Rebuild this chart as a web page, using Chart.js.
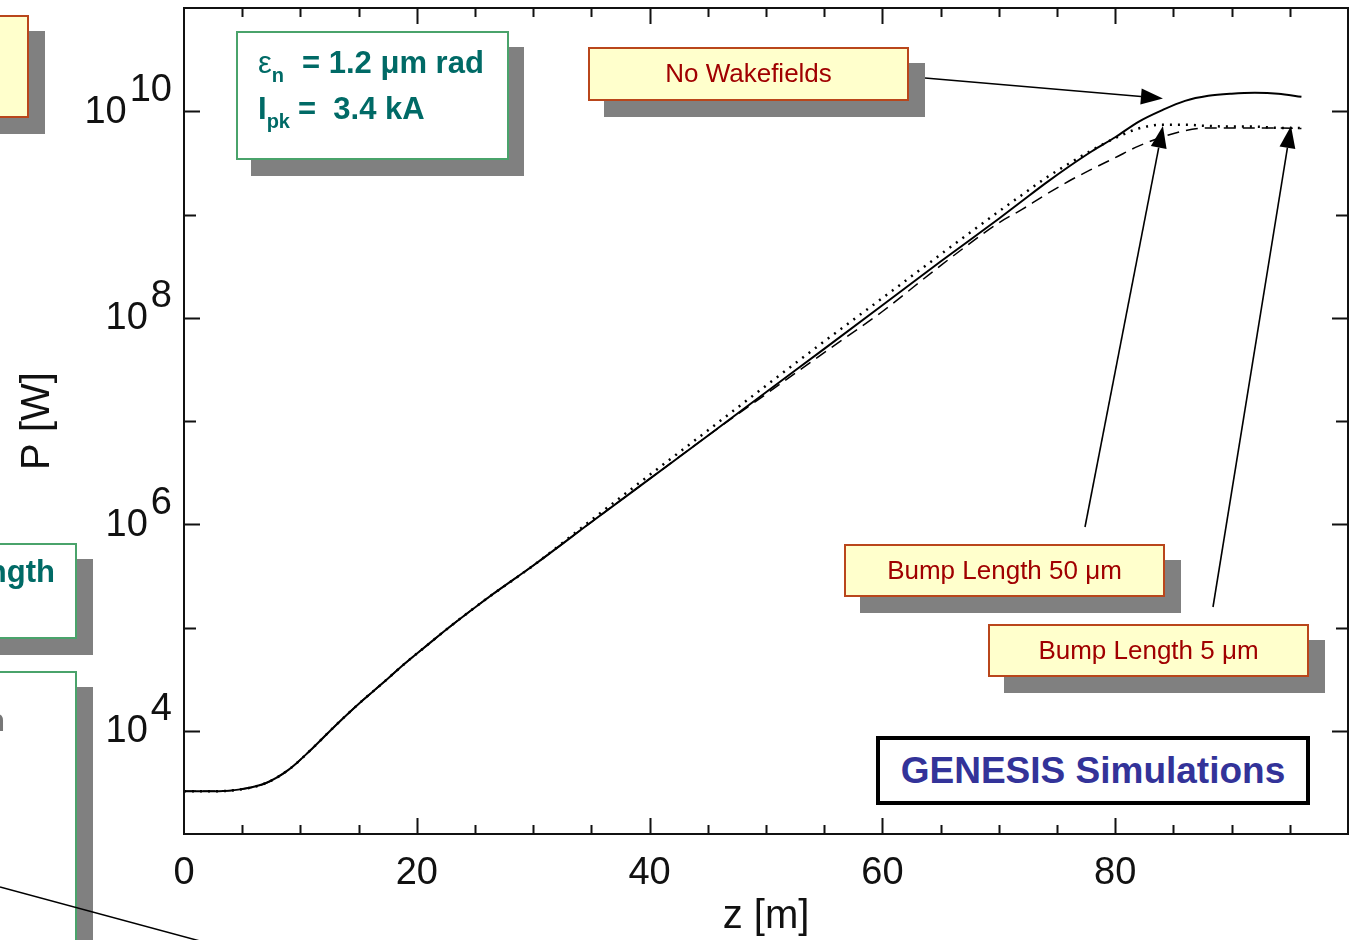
<!DOCTYPE html>
<html lang="en">
<head>
<meta charset="UTF-8">
<title>GENESIS - P vs z</title>
<script src="https://cdn.jsdelivr.net/npm/chart.js"></script>
<style>
  body { margin: 0; background: #fff; overflow: hidden; font-family: "Liberation Sans", Arial, sans-serif; }
  #wrap { position: relative; width: 1351px; height: 940px; overflow: hidden; }
  #chart { position: absolute; left: 0; top: 0; }
  .box { position: absolute; box-sizing: border-box; box-shadow: 16px 16px 0 #808080; }
  .note { background: #ffffcc; border: 2px solid #b9461b; color: #a00000; font-size: 26px; text-align: center; line-height: 49px; }
  .green { background: #fff; border: 2px solid #4aa36b; color: #006a66; font-weight: bold; font-size: 31px; }
  .green .ln { position: absolute; white-space: nowrap; line-height: 30px; }
  .sub { font-size: 20px; position: relative; top: 9px; }
  #genesis { position: absolute; left: 876px; top: 736px; width: 434px; height: 69px; box-sizing: border-box;
             border: 4px solid #000; background: #fff; color: #333399; font-weight: bold; font-size: 37px;
             text-align: center; line-height: 61px; }
  #stray { position: absolute; left: 0; top: 0; pointer-events: none; }
</style>
</head>
<body>
<div id="wrap">
  <canvas id="chart" width="1351" height="940"></canvas>

  <!-- cut-off slide boxes on the left -->
  <div class="box note" style="left:-100px; top:15px; width:129px; height:103px;"></div>
  <div class="box green" style="left:-300px; top:543px; width:377px; height:96px;">
    <div class="ln" style="right:20px; top:12px;">Bump Length</div>
  </div>
  <div class="box green" style="left:-300px; top:671px; width:377px; height:400px; color:#777;">
    <div class="ln" style="right:70px; top:33px;">Simulation</div>
  </div>

  <!-- parameter box -->
  <div class="box green" style="left:236px; top:31px; width:273px; height:129px; box-shadow:15px 16px 0 #808080;">
    <div class="ln" style="left:20px; top:15px;"><span style="font-weight:normal">ε</span><span class="sub">n</span><span style="margin-left:18px">= 1.2 μm rad</span></div>
    <div class="ln" style="left:20px; top:61px;">I<span class="sub">pk</span><span style="margin-left:8px">=&nbsp; 3.4 kA</span></div>
  </div>

  <div class="box note" style="left:588px; top:47px; width:321px; height:54px;">No Wakefields</div>
  <div class="box note" style="left:844px; top:544px; width:321px; height:53px;">Bump Length 50 μm</div>
  <div class="box note" style="left:988px; top:624px; width:321px; height:53px;">Bump Length 5 μm</div>

  <div id="genesis">GENESIS Simulations</div>

  <svg id="stray" width="1351" height="940"><line x1="0" y1="887" x2="200" y2="941" stroke="#000" stroke-width="1.5"/></svg>
</div>

<script>
  // undulator position z [m]
  const zValues = [0, 3, 5, 7, 9, 11, 13, 15, 17, 19, 21, 23, 26, 30, 35, 40, 45, 50, 55, 60,
                   65, 70, 72, 74, 76, 78, 80, 82, 84, 86, 88, 90, 92, 94, 96];

  // radiation power P [W]
  const powerNoWake = [2.6e3, 2.6e3, 2.72e3, 3.1e3, 4.2e3, 6.7e3, 1.12e4, 1.82e4, 2.85e4, 4.5e4,
                       6.9e4, 1.05e5, 1.9e5, 3.98e5, 1.05e6, 2.75e6, 7.2e6, 1.9e7, 5.0e7, 1.32e8,
                       3.5e8, 9.1e8, 1.35e9, 2.0e9, 2.9e9, 4.1e9, 5.6e9, 7.9e9, 1.02e10, 1.26e10,
                       1.41e10, 1.48e10, 1.51e10, 1.48e10, 1.38e10];
  const powerBump50 = [2.6e3, 2.6e3, 2.72e3, 3.1e3, 4.2e3, 6.7e3, 1.12e4, 1.82e4, 2.85e4, 4.5e4,
                       6.9e4, 1.05e5, 1.9e5, 3.98e5, 1.1e6, 3.0e6, 8.1e6, 2.2e7, 5.9e7, 1.55e8,
                       4.1e8, 1.07e9, 1.55e9, 2.24e9, 3.1e9, 4.2e9, 5.5e9, 6.8e9, 7.4e9, 7.4e9,
                       7.2e9, 7.1e9, 7.1e9, 6.9e9, 6.9e9];
  const powerBump5 = [2.6e3, 2.6e3, 2.72e3, 3.1e3, 4.2e3, 6.7e3, 1.12e4, 1.82e4, 2.85e4, 4.5e4,
                      6.9e4, 1.05e5, 1.9e5, 3.98e5, 1.05e6, 2.75e6, 7.2e6, 1.82e7, 4.6e7, 1.15e8,
                      3.2e8, 8.3e8, 1.12e9, 1.55e9, 2.1e9, 2.75e9, 3.55e9, 4.6e9, 5.6e9, 6.5e9,
                      6.9e9, 6.9e9, 6.9e9, 6.9e9, 6.8e9];

  const xTickLabels = [0, 20, 40, 60, 80];
  const yTickExponents = [4, 6, 8, 10];

  // arrows: start in pixels (box edge), tip in data units
  const arrows = [
    { from: [925, 78],  tip: [84.1, 1.33e10] },
    { from: [1085, 527], tip: [84.1, 7.2e9] },
    { from: [1213, 607], tip: [95.1, 7.2e9] }
  ];

  const pts = ys => zValues.map((z, i) => ({ x: z, y: ys[i] }));
  const FONT = '"Liberation Sans", Arial, sans-serif';

  const framePlugin = {
    id: 'frame',
    afterDatasetsDraw(chart) {
      const ctx = chart.ctx, a = chart.chartArea;
      const xs = chart.scales.x, ys = chart.scales.y;
      ctx.save();
      ctx.strokeStyle = '#111';
      ctx.lineWidth = 2;
      ctx.strokeRect(a.left, a.top, a.right - a.left, a.bottom - a.top);

      // inside ticks
      ctx.beginPath();
      for (let v = 5; v < 100; v += 5) {
        const px = Math.round(xs.getPixelForValue(v)) + 0.5;
        const len = v % 20 === 0 ? 16 : 9;
        ctx.moveTo(px, a.bottom); ctx.lineTo(px, a.bottom - len);
        ctx.moveTo(px, a.top); ctx.lineTo(px, a.top + len);
      }
      for (let e = 4; e <= 10; e++) {
        const py = Math.round(ys.getPixelForValue(Math.pow(10, e))) + 0.5;
        const len = e % 2 === 0 ? 16 : 12;
        ctx.moveTo(a.left, py); ctx.lineTo(a.left + len, py);
        ctx.moveTo(a.right, py); ctx.lineTo(a.right - len, py);
      }
      ctx.stroke();

      // tick labels
      ctx.fillStyle = '#111';
      ctx.font = '38px ' + FONT;
      ctx.textAlign = 'center';
      ctx.textBaseline = 'middle';
      xTickLabels.forEach(v => ctx.fillText(String(v), xs.getPixelForValue(v), 874));
      yTickExponents.forEach(e => {
        const py = ys.getPixelForValue(Math.pow(10, e));
        const right = a.left - 12;
        ctx.textAlign = 'right';
        ctx.fillText(String(e), right, py - 21);
        const w = ctx.measureText(String(e)).width;
        ctx.fillText('10', right - w - 3, py + 1);
      });

      // axis titles
      ctx.font = '40px ' + FONT;
      ctx.textAlign = 'center';
      ctx.fillText('z [m]', (a.left + a.right) / 2, 917);
      ctx.translate(38, 421);
      ctx.rotate(-Math.PI / 2);
      ctx.fillText('P [W]', 0, 0);
      ctx.setTransform(1, 0, 0, 1, 0, 0);

      // arrows
      ctx.strokeStyle = '#000';
      ctx.fillStyle = '#000';
      ctx.lineWidth = 1.6;
      arrows.forEach(ar => {
        const tx = xs.getPixelForValue(ar.tip[0]), ty = ys.getPixelForValue(ar.tip[1]);
        const [fx, fy] = ar.from;
        const ang = Math.atan2(ty - fy, tx - fx);
        const L = 22, W = 8;
        const bx = tx - L * Math.cos(ang), by = ty - L * Math.sin(ang);
        ctx.beginPath(); ctx.moveTo(fx, fy); ctx.lineTo(bx, by); ctx.stroke();
        ctx.beginPath();
        ctx.moveTo(tx, ty);
        ctx.lineTo(bx + W * Math.sin(ang), by - W * Math.cos(ang));
        ctx.lineTo(bx - W * Math.sin(ang), by + W * Math.cos(ang));
        ctx.closePath(); ctx.fill();
      });
      ctx.restore();
    }
  };

  new Chart(document.getElementById('chart'), {
    type: 'line',
    data: {
      datasets: [
        { label: 'No Wakefields', data: pts(powerNoWake), borderColor: '#000', borderWidth: 2,
          pointRadius: 0, cubicInterpolationMode: 'monotone' },
        { label: 'Bump Length 50 μm', data: pts(powerBump50), borderColor: '#000', borderWidth: 2.5,
          borderDash: [2, 6], pointRadius: 0, cubicInterpolationMode: 'monotone' },
        { label: 'Bump Length 5 μm', data: pts(powerBump5), borderColor: '#000', borderWidth: 1.5,
          borderDash: [12, 7], pointRadius: 0, cubicInterpolationMode: 'monotone' }
      ]
    },
    options: {
      responsive: false,
      animation: false,
      devicePixelRatio: 1,
      layout: { padding: { left: 184, right: 3, top: 8, bottom: 106 } },
      plugins: { legend: { display: false }, tooltip: { enabled: false } },
      scales: {
        x: { type: 'linear', min: 0, max: 100, display: false },
        y: { type: 'logarithmic', min: 1e3, max: 1e11, display: false }
      }
    },
    plugins: [framePlugin]
  });
</script>
</body>
</html>
